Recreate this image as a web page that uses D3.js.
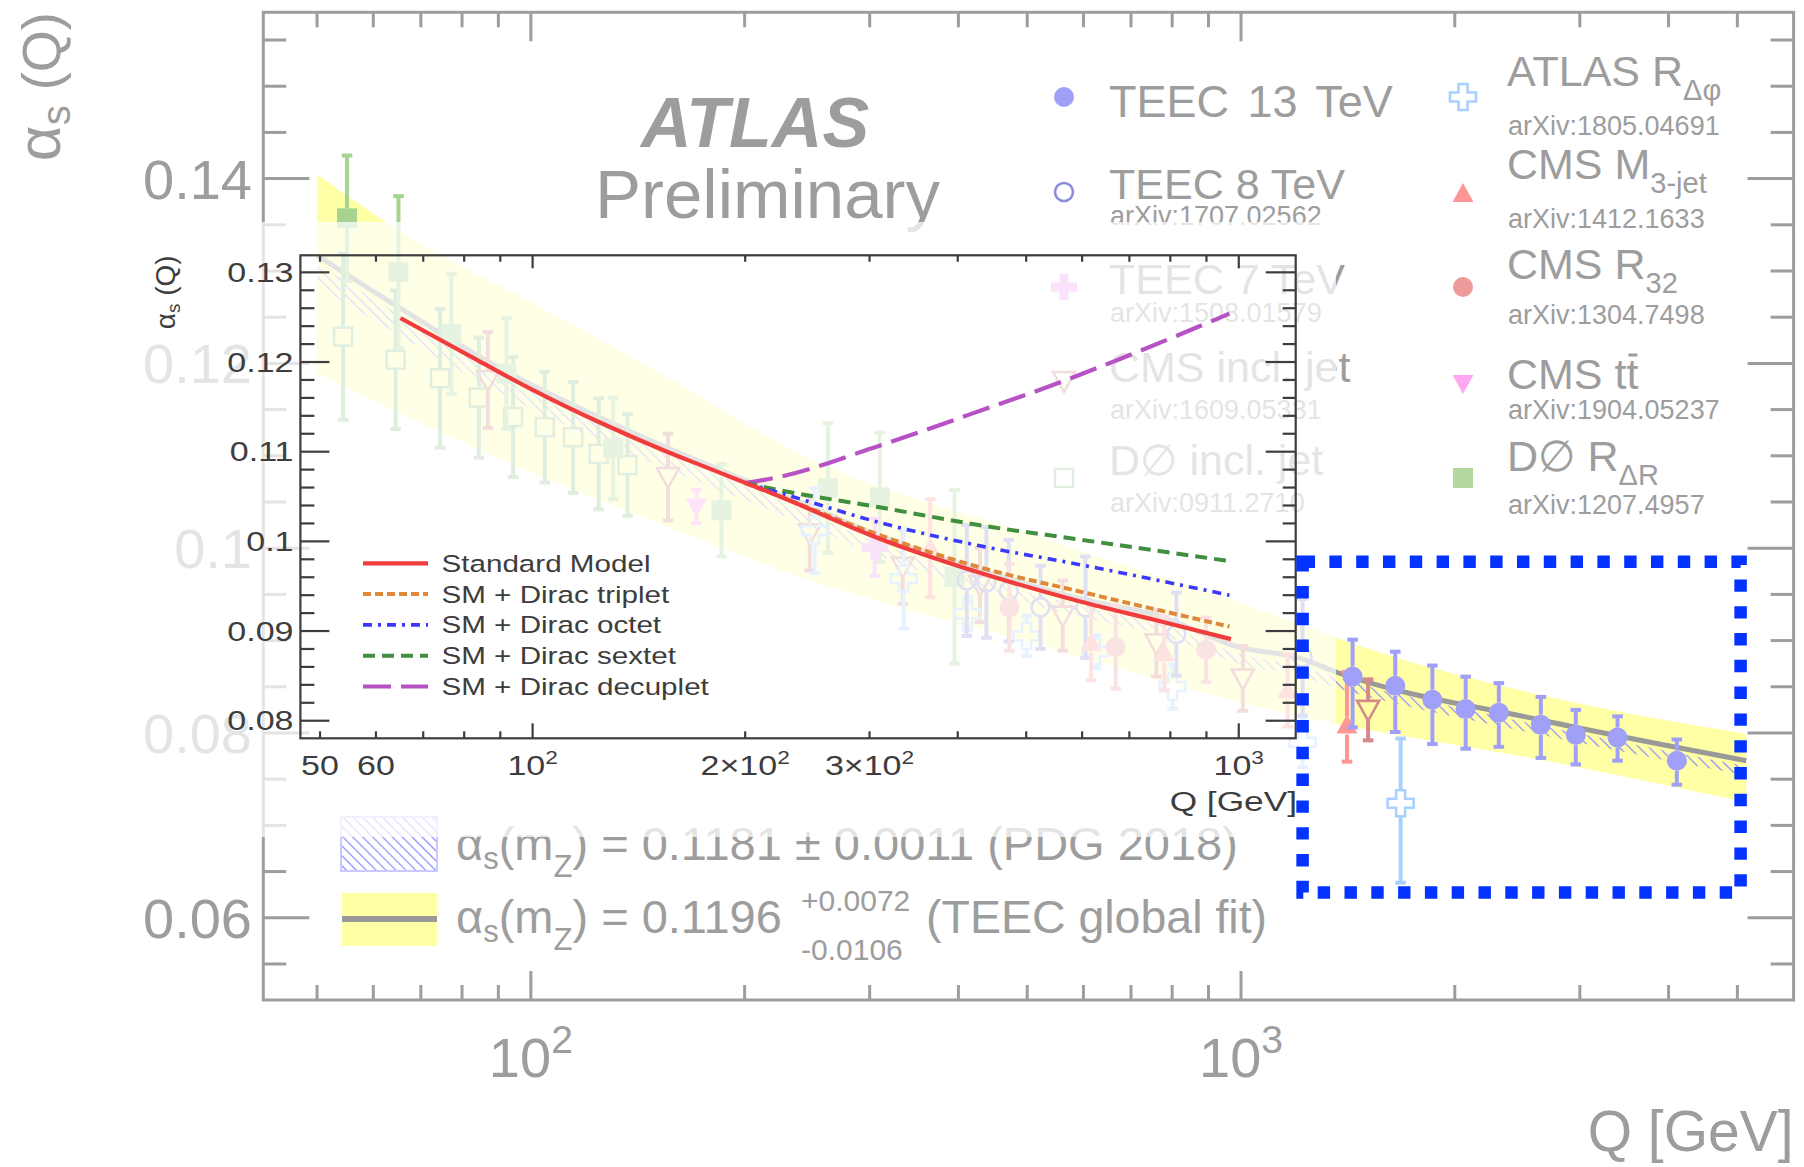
<!DOCTYPE html>
<html>
<head>
<meta charset="utf-8">
<script src="https://cdn.jsdelivr.net/npm/d3@7"></script>
<style>
  html, body { margin: 0; padding: 0; background: #fff; }
  svg { display: block; font-family: "Liberation Sans", Arial, Helvetica, "DejaVu Sans", sans-serif; }
</style>
</head>
<body>
<svg id="chart" width="1804" height="1167"></svg>
<script>
// ---------------- data: running coupling measurements ----------------
const teec13Q  = [1436, 1649, 1860, 2072, 2307, 2644, 2961, 3390, 4109];
const teec13A  = [0.0861, 0.0851, 0.0836, 0.0826, 0.0822, 0.0809, 0.0798, 0.0795, 0.0770];
const teec13Hi = [0.0901, 0.0888, 0.0873, 0.0861, 0.0854, 0.0839, 0.0825, 0.0818, 0.0793];
const teec13Lo = [0.0806, 0.0801, 0.0788, 0.0783, 0.0785, 0.0773, 0.0766, 0.0770, 0.0744];

const teec8Q   = [411, 438, 471, 522, 604, 811, 1221];
const teec8A   = [0.0965, 0.0963, 0.0954, 0.0936, 0.0936, 0.0907, 0.0882];
const teec8Err = [0.0060, 0.0060, 0.0055, 0.0045, 0.0055, 0.0045, 0.0063];

const teec7Q   = [305];
const teec7A   = [0.1001];
const teec7Err = [0.0031];

const cmsJetQ   = [87, 156, 247, 334, 429, 561, 760, 1006, 1510];
const cmsJetA   = [0.1182, 0.1077, 0.1016, 0.0980, 0.0960, 0.0927, 0.0897, 0.0859, 0.0825];
const cmsJetErr = [0.0052, 0.0047, 0.0040, 0.0040, 0.0040, 0.0038, 0.0036, 0.0035, 0.0033];

const d0JetQ   = [54.4, 64.5, 74.5, 84.5, 94.4, 104.6, 114.7, 124.6, 136.8];
const d0JetA   = [0.1229, 0.1204, 0.1184, 0.1163, 0.1142, 0.1131, 0.1120, 0.1102, 0.1090];
const d0JetErr = [0.0090, 0.0075, 0.0075, 0.0065, 0.0065, 0.0060, 0.0060, 0.0060, 0.0055];

const atlasDphiQ  = [251, 335, 412, 499, 624, 801, 1221, 1678];
const atlasDphiA  = [0.1019, 0.0967, 0.0929, 0.0905, 0.0888, 0.0850, 0.0790, 0.0724];
const atlasDphiHi = [0.1065, 0.1021, 0.0947, 0.0927, 0.0906, 0.0874, 0.0817, 0.0794];
const atlasDphiLo = [0.0973, 0.0913, 0.0911, 0.0883, 0.0870, 0.0826, 0.0763, 0.0638];

const cmsM3Q  = [365, 615, 780, 1163, 1410];
const cmsM3A  = [0.1000, 0.0897, 0.0886, 0.0846, 0.0808];
const cmsM3Hi = [0.1053, 0.0937, 0.0926, 0.0885, 0.0866];
const cmsM3Lo = [0.0947, 0.0857, 0.0846, 0.0807, 0.0769];

const cmsR32Q   = [472, 666, 893];
const cmsR32A   = [0.0936, 0.0893, 0.0890];
const cmsR32Err = [0.0047, 0.0045, 0.0035];

const cmsTtQ   = [171];
const cmsTtA   = [0.1045];
const cmsTtErr = [0.0018];

const d0RdrQ   = [55.1, 65.1, 77.3, 92.4, 130.6, 185.5, 262, 310, 395];
const d0RdrA   = [0.1357, 0.1299, 0.1232, 0.1189, 0.1108, 0.1041, 0.1065, 0.1055, 0.0969];
const d0RdrErr = [0.0068, 0.0082, 0.0065, 0.0060, 0.0055, 0.0050, 0.0070, 0.0070, 0.0094];

// TEEC global fit: central curve and uncertainty band
const fitQ = [50, 65.4, 90.4, 139.3, 192.6, 239, 310, 430, 596, 764, 992, 1209, 1361, 2644, 5148];
const fitA = [0.1317, 0.1260, 0.1195, 0.1125, 0.1079, 0.1050, 0.1013, 0.0976, 0.0945, 0.0927, 0.0893, 0.0881, 0.0866, 0.0814, 0.0770];
const bandQ  = [50, 65.4, 100.7, 155.8, 239, 520.5, 1209, 1361, 2644, 5148];
const bandHi = [0.1405, 0.1343, 0.1265, 0.1185, 0.1102, 0.1012, 0.0918, 0.0903, 0.0841, 0.0799];
const bandLo = [0.1189, 0.1146, 0.1081, 0.1023, 0.0969, 0.0895, 0.0818, 0.0810, 0.0771, 0.0725];
// PDG world average band
const pdgHi = [0.1308, 0.1252, 0.1188, 0.1119, 0.1073, 0.1043, 0.1005, 0.0968, 0.0937, 0.0919, 0.0886, 0.0872, 0.0860, 0.0808, 0.0764];
const pdgLo = [0.1283, 0.1230, 0.1168, 0.1101, 0.1057, 0.1028, 0.0991, 0.0955, 0.0925, 0.0907, 0.0875, 0.0861, 0.0849, 0.0798, 0.0754];

// inset: Standard Model running and coloured-fermion extensions
const smQ = [65, 84, 100, 125, 155, 173, 224, 310, 430, 596, 764, 975];
const smA = [0.1249, 0.1201, 0.1169, 0.1132, 0.1100, 0.1085, 0.1050, 0.1003, 0.0965, 0.0933, 0.0912, 0.0891];
const tripletQ = [200, 224, 310, 430, 596, 970];
const tripletA = [0.1065, 0.1050, 0.1007, 0.0971, 0.0944, 0.0905];
const octetQ   = [200, 224, 310, 430, 596, 970];
const octetA   = [0.1065, 0.1054, 0.1021, 0.0995, 0.0974, 0.0940];
const sextetQ  = [200, 224, 310, 430, 596, 970];
const sextetA  = [0.1065, 0.1057, 0.1038, 0.1018, 0.1002, 0.0978];
const decupletQ = [200, 224, 310.5, 469, 523, 672, 970];
const decupletA = [0.1065, 0.1072, 0.1107, 0.1156, 0.1169, 0.1202, 0.1254];

// tick labels
const outerYTicks  = [0.06, 0.08, 0.1, 0.12, 0.14];
const outerYLabels = ["0.06", "0.08", "0.1", "0.12", "0.14"];
const outerXMajor  = [100, 1000];
const outerXLabels = [["10", "2"], ["10", "3"]];
const outerXMinor  = [50, 60, 70, 80, 90, 200, 300, 400, 500, 600, 700, 800, 900, 2000, 3000, 4000, 5000];
const insetYTicks  = [0.08, 0.09, 0.1, 0.11, 0.12, 0.13];
const insetYLabels = ["0.08", "0.09", "0.1", "0.11", "0.12", "0.13"];
const insetXMajor  = [100, 1000];
const insetXMinor  = [50, 60, 70, 80, 90, 200, 300, 400, 500, 600, 700, 800, 900];
const insetXLabelQ = [50, 60, 100, 200, 300, 1000];
const insetXLabels = [["50", ""], ["60", ""], ["10", "2"], ["2\u00d710", "2"], ["3\u00d710", "2"], ["10", "3"]];

const insetSeries = ["Standard Model", "SM + Dirac triplet", "SM + Dirac octet", "SM + Dirac sextet", "SM + Dirac decuplet"];

// ---------------- scales ----------------
const outerX = d3.scaleLog().domain([42, 6000]).range([263.3, 1793.6]);
const outerY = d3.scaleLinear().domain([0.0511, 0.1580]).range([1000, 12.3]);
const insetX = d3.scaleLog().domain([46.9, 1204]).range([300.4, 1295.7]);
const insetY = d3.scaleLinear().domain([0.07804, 0.1319]).range([738.3, 255.3]);

const GREY = "#9d9d9d";
const svg = d3.select("#chart");
const defs = svg.append("defs");
const hatch = defs.append("pattern").attr("id", "pdgHatch")
  .attr("patternUnits", "userSpaceOnUse").attr("width", 7).attr("height", 7)
  .attr("patternTransform", "rotate(-45)");
hatch.append("line").attr("x1", 0).attr("y1", 0).attr("x2", 0).attr("y2", 7)
  .attr("stroke", "#8c8cff").attr("stroke-width", 2.4);

// ---------------- marker helpers ----------------
function crossPath(h, a) {
  return `M${-a},${-h}L${a},${-h}L${a},${-a}L${h},${-a}L${h},${a}L${a},${a}L${a},${h}L${-a},${h}L${-a},${a}L${-h},${a}L${-h},${-a}L${-a},${-a}Z`;
}
function drawMarker(g, type, x, y, color) {
  const m = g.append("g").attr("transform", `translate(${x},${y})`);
  switch (type) {
    case "circle":  m.append("circle").attr("r", 10).attr("fill", color); break;
    case "ocircle": m.append("circle").attr("r", 9).attr("fill", "none").attr("stroke", color).attr("stroke-width", 2.6); break;
    case "square":  m.append("rect").attr("x", -10).attr("y", -10).attr("width", 20).attr("height", 20).attr("fill", color); break;
    case "osquare": m.append("rect").attr("x", -9).attr("y", -9).attr("width", 18).attr("height", 18).attr("fill", "none").attr("stroke", color).attr("stroke-width", 2.4); break;
    case "utri":    m.append("path").attr("d", "M0,-11L10.5,8L-10.5,8Z").attr("fill", color); break;
    case "dtri":    m.append("path").attr("d", "M0,11L10.5,-8L-10.5,-8Z").attr("fill", color); break;
    case "odtri":   m.append("path").attr("d", "M0,11L11,-9L-11,-9Z").attr("fill", "none").attr("stroke", color).attr("stroke-width", 2.6); break;
    case "plus":    m.append("path").attr("d", crossPath(13, 4.5)).attr("fill", color); break;
    case "ocross":  m.append("path").attr("d", crossPath(13, 4.5)).attr("fill", "none").attr("stroke", color).attr("stroke-width", 2.6); break;
  }
}
const markerHalf = { circle: 10, ocircle: 10, square: 10, osquare: 10, utri: 9, dtri: 9, odtri: 10, plus: 13, ocross: 13 };

function drawSeries(g, Q, A, hi, lo, type, color) {
  Q.forEach((q, i) => {
    const x = outerX(q), y = outerY(A[i]);
    const yHi = outerY(hi[i]), yLo = outerY(lo[i]);
    const h = markerHalf[type];
    if (yHi < y - h) g.append("line").attr("x1", x).attr("x2", x).attr("y1", yHi).attr("y2", y - h).attr("stroke", color).attr("stroke-width", 4);
    if (yLo > y + h) g.append("line").attr("x1", x).attr("x2", x).attr("y1", y + h).attr("y2", yLo).attr("stroke", color).attr("stroke-width", 4);
    g.append("rect").attr("x", x - 5.3).attr("y", yHi - 2).attr("width", 10.6).attr("height", 4).attr("fill", color);
    g.append("rect").attr("x", x - 5.3).attr("y", yLo - 2).attr("width", 10.6).attr("height", 4).attr("fill", color);
    drawMarker(g, type, x, y, color);
  });
}
const plus  = (A, E) => A.map((a, i) => a + E[i]);
const minus = (A, E) => A.map((a, i) => a - E[i]);

// ---------------- outer panel ----------------
const outer = svg.append("g");

const band = bandQ.map((q, i) => ({ q, lo: bandLo[i], hi: bandHi[i] }));
outer.append("path").datum(band)
  .attr("d", d3.area().x(d => outerX(d.q)).y0(d => outerY(d.lo)).y1(d => outerY(d.hi)).curve(d3.curveMonotoneX))
  .attr("fill", "#ffffa6");

const pdg = fitQ.map((q, i) => ({ q, lo: pdgLo[i], hi: pdgHi[i] }));
outer.append("path").datum(pdg)
  .attr("d", d3.area().x(d => outerX(d.q)).y0(d => outerY(d.lo)).y1(d => outerY(d.hi)).curve(d3.curveMonotoneX))
  .attr("fill", "url(#pdgHatch)");

const fit = fitQ.map((q, i) => ({ q, a: fitA[i] }));
outer.append("path").datum(fit)
  .attr("d", d3.line().x(d => outerX(d.q)).y(d => outerY(d.a)).curve(d3.curveMonotoneX))
  .attr("fill", "none").attr("stroke", "#999").attr("stroke-width", 5);

const pts = outer.append("g");
drawSeries(pts, d0JetQ, d0JetA, plus(d0JetA, d0JetErr), minus(d0JetA, d0JetErr), "osquare", "#8fc08f");
drawSeries(pts, d0RdrQ, d0RdrA, plus(d0RdrA, d0RdrErr), minus(d0RdrA, d0RdrErr), "square", "#a6d392");
drawSeries(pts, cmsJetQ, cmsJetA, plus(cmsJetA, cmsJetErr), minus(cmsJetA, cmsJetErr), "odtri", "#d48a8a");
drawSeries(pts, atlasDphiQ, atlasDphiA, atlasDphiHi, atlasDphiLo, "ocross", "#a9d1ff");
drawSeries(pts, teec8Q, teec8A, plus(teec8A, teec8Err), minus(teec8A, teec8Err), "ocircle", "#9090dc");
drawSeries(pts, teec7Q, teec7A, plus(teec7A, teec7Err), minus(teec7A, teec7Err), "plus", "#ee96ee");
drawSeries(pts, cmsTtQ, cmsTtA, plus(cmsTtA, cmsTtErr), minus(cmsTtA, cmsTtErr), "dtri", "#ff9cec");
drawSeries(pts, cmsR32Q, cmsR32A, plus(cmsR32A, cmsR32Err), minus(cmsR32A, cmsR32Err), "circle", "#ec9a9a");
drawSeries(pts, cmsM3Q, cmsM3A, cmsM3Hi, cmsM3Lo, "utri", "#ff9696");
drawSeries(pts, teec13Q, teec13A, teec13Hi, teec13Lo, "circle", "#a0a0f8");

// frame and ticks
const oL = outerX.range()[0], oR = outerX.range()[1], oT = outerY.range()[1], oB = outerY.range()[0];
const axes = outer.append("g").attr("stroke", GREY).attr("stroke-width", 3);
axes.append("rect").attr("x", oL).attr("y", oT).attr("width", oR - oL).attr("height", oB - oT).attr("fill", "none");
const yMinor = d3.range(11, 32).map(i => +(i * 0.005).toFixed(3));
yMinor.forEach(v => {
  const major = outerYTicks.some(t => Math.abs(t - v) < 1e-6);
  const len = major ? 46 : 23;
  axes.append("line").attr("x1", oL).attr("x2", oL + len).attr("y1", outerY(v)).attr("y2", outerY(v));
  axes.append("line").attr("x1", oR).attr("x2", oR - len).attr("y1", outerY(v)).attr("y2", outerY(v));
});
outerXMinor.concat(outerXMajor).forEach(q => {
  const len = outerXMajor.includes(q) ? 29 : 15;
  axes.append("line").attr("x1", outerX(q)).attr("x2", outerX(q)).attr("y1", oB).attr("y2", oB - len);
  axes.append("line").attr("x1", outerX(q)).attr("x2", outerX(q)).attr("y1", oT).attr("y2", oT + len);
});

const otext = outer.append("g").attr("fill", GREY);
outerYTicks.forEach((v, i) => {
  otext.append("text").attr("x", 252).attr("y", outerY(v) + 20).attr("text-anchor", "end")
    .attr("font-size", 56).text(outerYLabels[i]);
});
outerXMajor.forEach((q, i) => {
  const t = otext.append("text").attr("x", outerX(q)).attr("y", 1076.5).attr("text-anchor", "middle").attr("font-size", 56);
  t.append("tspan").text(outerXLabels[i][0]);
  t.append("tspan").attr("font-size", 39).attr("dy", -24).text(outerXLabels[i][1]);
});
otext.append("text").attr("x", oR).attr("y", 1151).attr("text-anchor", "end").attr("font-size", 57).text("Q [GeV]");
{
  const t = otext.append("text").attr("transform", `translate(60,${oT}) rotate(-90)`).attr("text-anchor", "end");
  t.append("tspan").attr("font-size", 62).text("\u03b1");
  t.append("tspan").attr("font-size", 40).attr("dy", 10).text("s");
  t.append("tspan").attr("font-size", 54).attr("dy", -10).text(" (Q)");
}
otext.append("text").attr("x", 641).attr("y", 146.5).attr("font-size", 70).attr("font-weight", "bold")
  .attr("font-style", "italic").text("ATLAS");
otext.append("text").attr("x", 595).attr("y", 218).attr("font-size", 69).text("Preliminary");

// experiment legend
const legL = [
  { type: "circle",  color: "#a0a0f8", my: 97,  name: ["TEEC 13 TeV"], ny: 116.5, size: 45, wsp: 6 },
  { type: "ocircle", color: "#8c8cdc", my: 192, name: ["TEEC 8 TeV"], ny: 198.5, ref: "arXiv:1707.02562", ry: 225 },
  { type: "plus",    color: "#ee96ee", my: 287, name: ["TEEC 7 TeV"], ny: 293.5, ref: "arXiv:1508.01579", ry: 321.5 },
  { type: "odtri",   color: "#d48a8a", my: 381, name: ["CMS incl. jet"], ny: 381.5, ref: "arXiv:1609.05331", ry: 418.5 },
  { type: "osquare", color: "#8fc08f", my: 478, name: ["D\u2205 incl. jet"], ny: 475, ref: "arXiv:0911.2710", ry: 511.5 }
];
const legR = [
  { type: "ocross", color: "#a9d1ff", my: 97,  name: ["ATLAS R", "\u0394\u03c6"], ny: 86,  ref: "arXiv:1805.04691", ry: 134.5 },
  { type: "utri",   color: "#ff9696", my: 194, name: ["CMS M", "3-jet"], ny: 179, ref: "arXiv:1412.1633", ry: 227.5 },
  { type: "circle", color: "#ec9a9a", my: 287, name: ["CMS R", "32"], ny: 279, ref: "arXiv:1304.7498", ry: 324 },
  { type: "dtri",   color: "#ffa8f0", my: 383, name: ["CMS tt"], ny: 388.5, ref: "arXiv:1904.05237", ry: 419, bar: true },
  { type: "square", color: "#b2d8a0", my: 478, name: ["D\u2205 R", "\u0394R"], ny: 471, ref: "arXiv:1207.4957", ry: 514 }
];
function drawLegendColumn(entries, mx, tx) {
  entries.forEach(e => {
    drawMarker(outer, e.type, mx, e.my, e.color);
    const t = otext.append("text").attr("x", tx).attr("y", e.ny).attr("font-size", e.size || 43);
    if (e.wsp) t.attr("word-spacing", e.wsp);
    t.append("tspan").text(e.name[0]);
    if (e.name[1]) t.append("tspan").attr("font-size", 29).attr("dy", 14).text(e.name[1]);
    if (e.bar) {
      const n = t.node();
      const ext = n.getExtentOfChar(n.getNumberOfChars() - 1);
      otext.append("rect").attr("x", ext.x + 2).attr("y", e.ny - 35).attr("width", ext.width - 3).attr("height", 3);
    }
    if (e.ref) otext.append("text").attr("x", tx + 1).attr("y", e.ry).attr("font-size", 27).text(e.ref);
  });
}
drawLegendColumn(legL, 1064, 1109);
drawLegendColumn(legR, 1463, 1507);

// coupling legend
outer.append("rect").attr("x", 341).attr("y", 817).attr("width", 96).attr("height", 54)
  .attr("fill", "url(#pdgHatch)").attr("stroke", "#c9c9ff").attr("stroke-width", 2);
outer.append("rect").attr("x", 342).attr("y", 893).attr("width", 95).attr("height", 53).attr("fill", "#ffffa6");
outer.append("line").attr("x1", 342).attr("x2", 437).attr("y1", 919).attr("y2", 919).attr("stroke", "#999").attr("stroke-width", 6);
function alphaMz(y, rest) {
  const t = otext.append("text").attr("x", 456).attr("y", y).attr("font-size", 47);
  t.append("tspan").text("\u03b1");
  t.append("tspan").attr("font-size", 31).attr("dy", 9).text("s");
  t.append("tspan").attr("dy", -9).text("(m");
  t.append("tspan").attr("font-size", 31).attr("dy", 17).text("Z");
  t.append("tspan").attr("dy", -17).text(rest);
}
alphaMz(860, ") = 0.1181 \u00b1 0.0011 (PDG 2018)");
alphaMz(933, ") = 0.1196");
otext.append("text").attr("x", 801).attr("y", 911).attr("font-size", 30).text("+0.0072");
otext.append("text").attr("x", 801).attr("y", 960).attr("font-size", 30).text("-0.0106");
otext.append("text").attr("x", 926).attr("y", 933).attr("font-size", 46.5).text("(TEEC global fit)");

// ---------------- inset ----------------
svg.append("rect").attr("x", 110).attr("y", 222).attr("width", 1226).attr("height", 615)
  .attr("fill", "#fff").attr("fill-opacity", 0.72);

const inset = svg.append("g");
const iL = insetX.range()[0], iR = insetX.range()[1], iT = insetY.range()[1], iB = insetY.range()[0];
const INK = "#3d3d3d";
const SX = 1.26;
function itext(x, y, size, anchor) {
  return inset.append("text").attr("transform", `translate(${x},${y}) scale(${SX},1)`)
    .attr("text-anchor", anchor).attr("font-size", size).attr("fill", INK);
}

const curves = [
  { Q: smQ,       A: smA,       color: "#f03c3c", w: 4.2, dash: null },
  { Q: tripletQ,  A: tripletA,  color: "#e0883a", w: 4,   dash: "8,4" },
  { Q: octetQ,    A: octetA,    color: "#3a3aff", w: 3.6, dash: "9,6,3,6" },
  { Q: sextetQ,   A: sextetA,   color: "#3f8f3f", w: 4,   dash: "12,7" },
  { Q: decupletQ, A: decupletA, color: "#b652c4", w: 4.2, dash: "28,10" }
];
const clineGen = d3.line().x(d => insetX(d.q)).y(d => insetY(d.a)).curve(d3.curveMonotoneX);
curves.slice().reverse().forEach(c => {
  const p = inset.append("path").datum(c.Q.map((q, i) => ({ q, a: c.A[i] })))
    .attr("d", clineGen).attr("fill", "none").attr("stroke", c.color).attr("stroke-width", c.w);
  if (c.dash) p.attr("stroke-dasharray", c.dash);
});

const iax = inset.append("g").attr("stroke", INK).attr("stroke-width", 2.2);
iax.append("rect").attr("x", iL).attr("y", iT).attr("width", iR - iL).attr("height", iB - iT).attr("fill", "none");
d3.range(40, 66).map(i => +(i * 0.002).toFixed(3)).forEach(v => {
  const major = insetYTicks.some(t => Math.abs(t - v) < 1e-6);
  iax.append("line").attr("x1", iL).attr("x2", iL + (major ? 29 : 14)).attr("y1", insetY(v)).attr("y2", insetY(v));
  iax.append("line").attr("x1", iR).attr("x2", iR - (major ? 30 : 13)).attr("y1", insetY(v)).attr("y2", insetY(v));
});
insetXMinor.concat(insetXMajor).forEach(q => {
  const major = insetXMajor.includes(q);
  iax.append("line").attr("x1", insetX(q)).attr("x2", insetX(q)).attr("y1", iB).attr("y2", iB - (major ? 15 : 7));
  iax.append("line").attr("x1", insetX(q)).attr("x2", insetX(q)).attr("y1", iT).attr("y2", iT + (major ? 13 : 6.5));
});
insetYTicks.forEach((v, i) => itext(293.5, insetY(v) + 9.5, 27, "end").text(insetYLabels[i]));
insetXLabelQ.forEach((q, i) => {
  const t = itext(insetX(q), 775, 27, "middle");
  t.append("tspan").text(insetXLabels[i][0]);
  if (insetXLabels[i][1]) t.append("tspan").attr("font-size", 18).attr("dy", -11).text(insetXLabels[i][1]);
});
itext(1297, 811, 28, "end").text("Q [GeV]");
{
  const t = inset.append("text").attr("transform", `translate(175,${iT}) rotate(-90)`)
    .attr("text-anchor", "end").attr("fill", INK).attr("font-size", 28);
  t.append("tspan").text("\u03b1");
  t.append("tspan").attr("font-size", 19).attr("dy", 5).text("s");
  t.append("tspan").attr("dy", -5).text(" (Q)");
}
curves.forEach((c, i) => {
  const y = 563.3 + i * 30.8;
  const l = inset.append("line").attr("x1", 363).attr("x2", 428).attr("y1", y).attr("y2", y)
    .attr("stroke", c.color).attr("stroke-width", c.w);
  if (c.dash) l.attr("stroke-dasharray", c.dash);
  itext(441.5, y + 8.4, 23.5, "start").text(insetSeries[i]);
});

// dotted frame around the 13 TeV points
svg.append("rect").attr("x", 1302.6).attr("y", 561.8).attr("width", 438).attr("height", 330.7)
  .attr("fill", "none").attr("stroke", "#0433ff").attr("stroke-width", 12.5).attr("stroke-dasharray", "12.4,14.4");
</script>
</body>
</html>
